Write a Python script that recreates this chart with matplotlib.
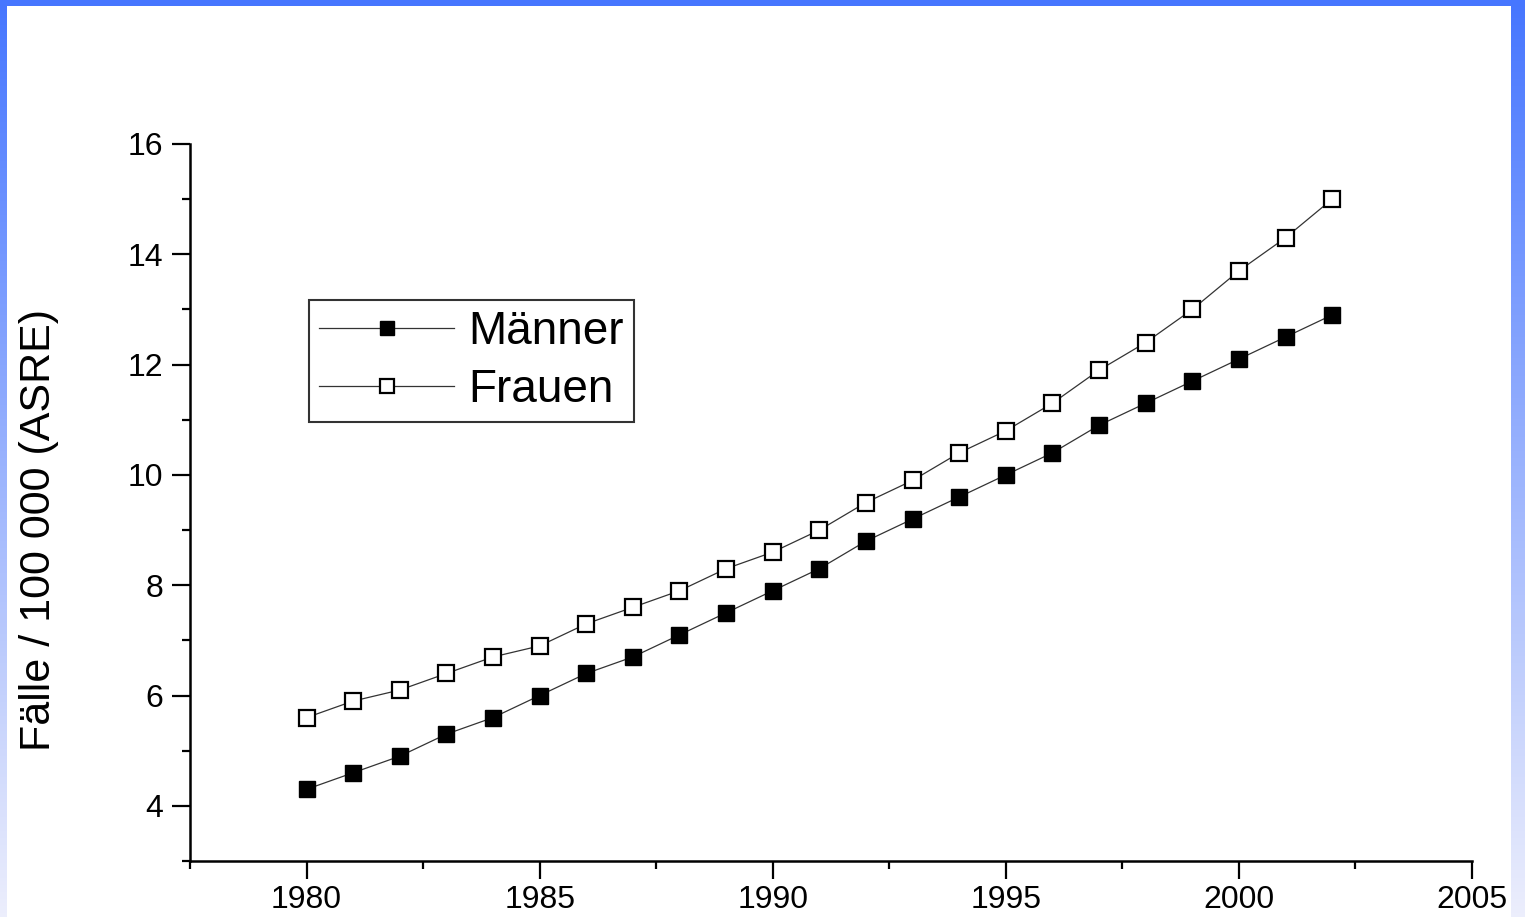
import numpy as np
import matplotlib
matplotlib.use("Agg")
from matplotlib import pyplot as plt
from matplotlib.patches import Rectangle
from matplotlib.ticker import MultipleLocator

plt.rcParams['font.family'] = ['Liberation Sans', 'DejaVu Sans']

years = list(range(1980, 2003))
maenner = [4.3, 4.6, 4.9, 5.3, 5.6, 6.0, 6.4, 6.7, 7.1, 7.5, 7.9, 8.3,
           8.8, 9.2, 9.6, 10.0, 10.4, 10.9, 11.3, 11.7, 12.1, 12.5, 12.9]
frauen = [5.6, 5.9, 6.1, 6.4, 6.7, 6.9, 7.3, 7.6, 7.9, 8.3, 8.6, 9.0,
          9.5, 9.9, 10.4, 10.8, 11.3, 11.9, 12.4, 13.0, 13.7, 14.3, 15.0]
x_ticks = [1980, 1985, 1990, 1995, 2000, 2005]
y_ticks = [4, 6, 8, 10, 12, 14, 16]

fig = plt.figure(figsize=(15.25, 9.17), dpi=100)

# blue slide frame with a vertical gradient, white panel on top
bg = fig.add_axes([0, 0, 1, 1], zorder=-2)
top = np.array([70, 118, 255]) / 255
bottom = np.array([236, 238, 252]) / 255
t = np.linspace(0, 1, 256)[:, None]
grad = (top * (1 - t) + bottom * t)[:, None, :]
bg.imshow(grad, aspect='auto', extent=[0, 1, 0, 1])
bg.add_patch(Rectangle((7 / 1525, 0), (1511 - 7) / 1525, 1 - 6 / 917,
                       facecolor='white', edgecolor='none'))
bg.set_xlim(0, 1)
bg.set_ylim(0, 1)
bg.axis('off')

ax = fig.add_axes([190 / 1525, 1 - 861 / 917, (1472 - 190) / 1525, (861 - 144) / 917])
ax.patch.set_alpha(0)

ax.plot(years, maenner, color='#333333', lw=0.9, marker='s', markersize=12,
        markerfacecolor='black', markeredgecolor='black', label='Männer')
ax.plot(years, frauen, color='#333333', lw=0.9, marker='s', markersize=12,
        markerfacecolor='white', markeredgecolor='black', markeredgewidth=1.6,
        label='Frauen')

ax.set_xlim(1977.5, 2005)
ax.set_ylim(3, 16)
ax.set_xticks(x_ticks)
ax.set_yticks(y_ticks)
ax.xaxis.set_minor_locator(MultipleLocator(2.5))
ax.yaxis.set_minor_locator(MultipleLocator(1))
ax.tick_params(which='major', length=13, width=1.6, labelsize=23, pad=6)
ax.tick_params(which='minor', length=6, width=1.6)
ax.tick_params(axis='x', which='major', pad=4)

for side in ['top', 'right']:
    ax.spines[side].set_visible(False)
for side in ['left', 'bottom']:
    ax.spines[side].set_linewidth(1.8)

ax.set_ylabel('Fälle / 100 000 (ASRE)', fontsize=31)
ax.yaxis.set_label_coords(-0.102, 0.462)

leg = ax.legend(loc='upper left', bbox_to_anchor=(309 / 1525, 1 - 300 / 917),
                bbox_transform=fig.transFigure, fontsize=33, frameon=True,
                fancybox=False, edgecolor='black', handlelength=2.95,
                markerscale=0.85, borderpad=0.22, labelspacing=0.3,
                handletextpad=0.3, borderaxespad=0)
leg.get_frame().set_linewidth(1.5)

fig.savefig('out.png', dpi=100)
